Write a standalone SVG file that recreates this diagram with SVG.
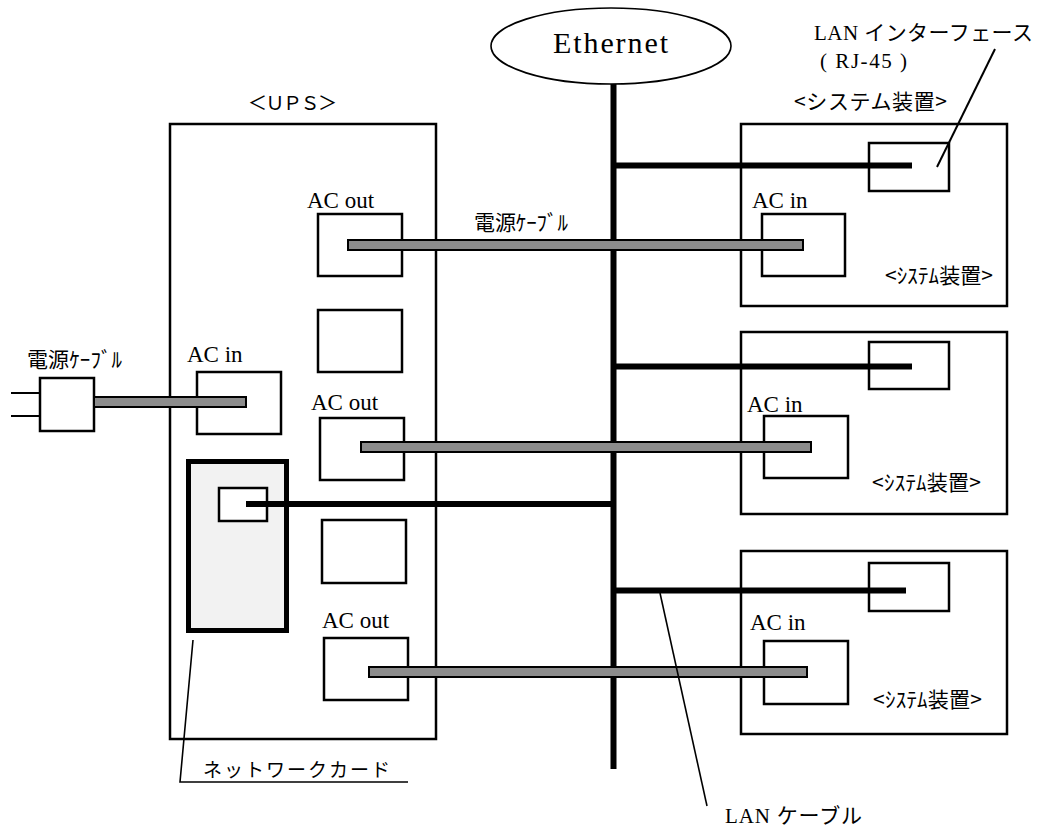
<svg xmlns="http://www.w3.org/2000/svg" width="1043" height="828" viewBox="0 0 1043 828">
<style>
.box{fill:#fff;stroke:#000;stroke-width:2.5}
.lan{stroke:#000;stroke-width:6;fill:none}
.pwr{fill:#8c8c8c;stroke:#000;stroke-width:2}
.thin{stroke:#000;stroke-width:1.6;fill:none}
.ser{font-family:"Liberation Serif","Noto Sans CJK JP",serif;fill:#000}
.jp{font-family:"Noto Sans CJK JP",sans-serif;fill:#000}
.mix{font-family:"Liberation Serif","Noto Sans CJK JP",serif;fill:#000}
.ac{font-size:23px}
</style>
<rect width="1043" height="828" fill="#fff"/>

<g id="ethernet">
<ellipse cx="611" cy="46" rx="120" ry="38" fill="#fff" stroke="#000" stroke-width="1.6"/>
<text class="ser" x="553" y="53" font-size="30" textLength="115">Ethernet</text>
</g>

<g id="ups">
<rect class="box" x="170" y="124" width="266" height="615"/>
<text class="jp" x="248" y="110" font-size="19" textLength="89">＜ＵＰＳ＞</text>
</g>
<g id="ups-acout1">
<rect class="box" x="318" y="214" width="84" height="62"/>
<text class="ser ac" x="307" y="208">AC out</text>
</g>
<g id="ups-blank1"><rect class="box" x="318" y="310" width="84" height="62"/></g>
<g id="ups-acin">
<rect class="box" x="197" y="372" width="84" height="62"/>
<text class="ser ac" x="187" y="362">AC in</text>
</g>
<g id="ups-acout2">
<rect class="box" x="320" y="418" width="84" height="62"/>
<text class="ser ac" x="311" y="410">AC out</text>
</g>
<g id="ups-blank2"><rect class="box" x="322" y="520" width="84" height="63"/></g>
<g id="ups-acout3">
<rect class="box" x="324" y="638" width="84" height="62"/>
<text class="ser ac" x="322" y="628">AC out</text>
</g>
<g id="network-card">
<rect x="188.5" y="461.5" width="98" height="169" fill="#f2f2f2" stroke="#000" stroke-width="5"/>
<rect class="box" x="219" y="488" width="48" height="33" stroke-width="2"/>
</g>

<g id="plug">
<line x1="11" y1="393" x2="40" y2="393" stroke="#000" stroke-width="2"/>
<line x1="11" y1="416" x2="40" y2="416" stroke="#000" stroke-width="2"/>
<rect class="box" x="40" y="378" width="54" height="53"/>
<text class="jp" x="27" y="367" font-size="21" textLength="95">電源ｹｰﾌﾞﾙ</text>
</g>

<g id="sys1">
<rect class="box" x="741" y="124" width="266" height="182"/>
<rect class="box" x="869" y="143" width="80" height="48"/>
<rect class="box" x="762" y="214" width="83" height="62"/>
<text class="ser ac" x="752" y="208">AC in</text>
<text class="jp" x="885" y="283" font-size="21" textLength="108">&lt;ｼｽﾃﾑ装置&gt;</text>
<text class="jp" x="794" y="109" font-size="21" textLength="153">&lt;システム装置&gt;</text>
</g>
<g id="sys2">
<rect class="box" x="741" y="332" width="266" height="182"/>
<rect class="box" x="869" y="342" width="80" height="47"/>
<rect class="box" x="764" y="416" width="84" height="62"/>
<text class="ser ac" x="747" y="412">AC in</text>
<text class="jp" x="872" y="490" font-size="21" textLength="109">&lt;ｼｽﾃﾑ装置&gt;</text>
</g>
<g id="sys3">
<rect class="box" x="741" y="551" width="266" height="183"/>
<rect class="box" x="869" y="563" width="80" height="48"/>
<rect class="box" x="764" y="641" width="84" height="63"/>
<text class="ser ac" x="750" y="630">AC in</text>
<text class="jp" x="873" y="707" font-size="21" textLength="109">&lt;ｼｽﾃﾑ装置&gt;</text>
</g>

<g id="connectors">
<line class="lan" x1="613.5" y1="84" x2="613.5" y2="769" stroke-width="6.5"/>
<line class="lan" x1="613" y1="165.5" x2="912" y2="165.5"/>
<line class="lan" x1="613" y1="366.5" x2="912" y2="366.5"/>
<line class="lan" x1="613" y1="590.5" x2="906" y2="590.5"/>
<line class="lan" x1="246" y1="504" x2="613" y2="504"/>
<rect class="pwr" x="348" y="240" width="455" height="10"/>
<rect class="pwr" x="94" y="397" width="152" height="10"/>
<rect class="pwr" x="361" y="442" width="450" height="10"/>
<rect class="pwr" x="369" y="667" width="438" height="10"/>
<line x1="937" y1="167" x2="995" y2="49" stroke="#000" stroke-width="2"/>
<polyline class="thin" points="193,640 180,782 408,782"/>
<line class="thin" x1="660" y1="593" x2="707" y2="806"/>
</g>

<g id="labels">
<text class="jp" x="474" y="230" font-size="21" textLength="94">電源ｹｰﾌﾞﾙ</text>
<text class="mix" x="814" y="40" font-size="21" textLength="219">LAN インターフェース</text>
<text class="mix" x="820" y="68" font-size="21" textLength="87">( RJ-45 )</text>
<text class="jp" x="203" y="777" font-size="19" textLength="187">ネットワークカード</text>
<text class="mix" x="725" y="823" font-size="21" textLength="137">LAN ケーブル</text>
</g>
</svg>
